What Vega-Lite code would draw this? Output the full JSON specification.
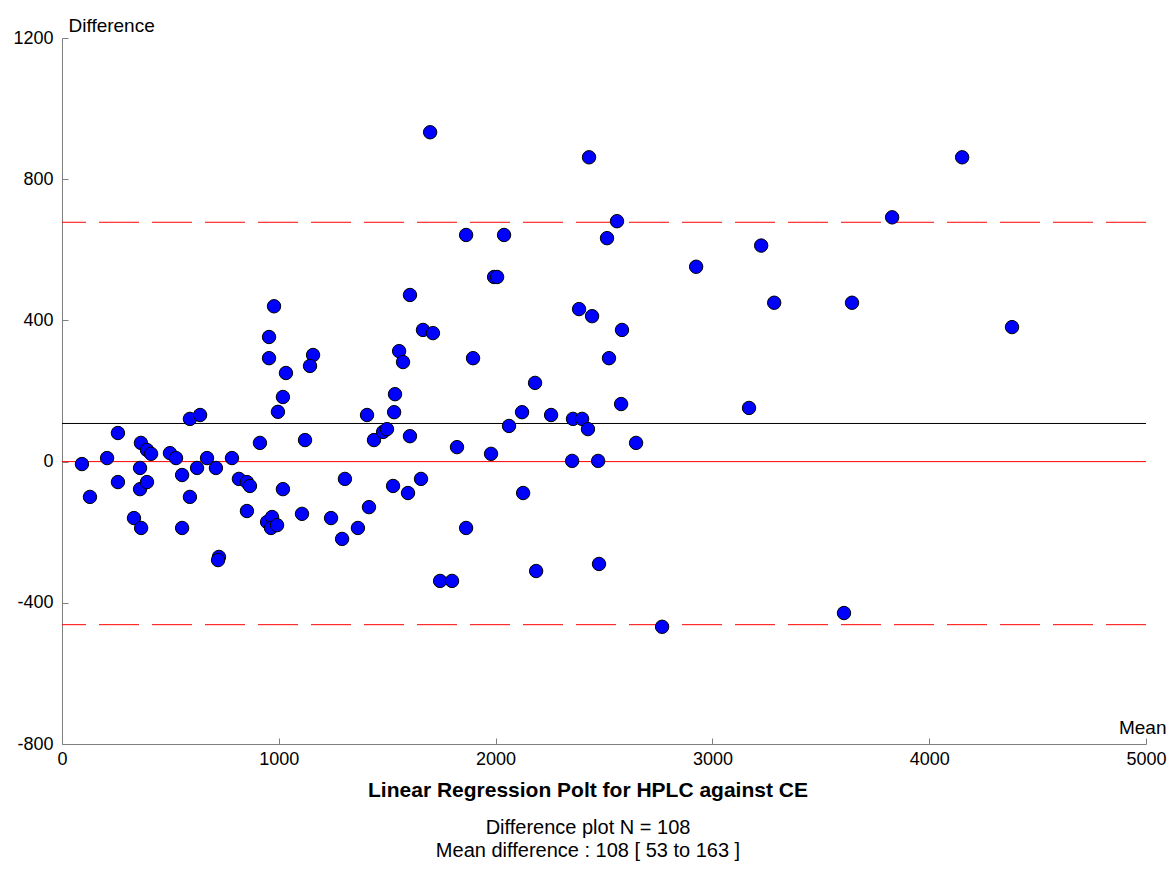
{
  "$schema": "https://vega.github.io/schema/vega-lite/v6.json",
  "width": 1084,
  "height": 706,
  "autosize": "none",
  "padding": {"left": 62, "top": 38, "right": 23, "bottom": 147},
  "background": "white",
  "config": {
    "view": {"stroke": null},
    "font": "Liberation Sans",
    "axis": {
      "grid": false,
      "domainColor": "#7f7f7f",
      "domainWidth": 1,
      "tickColor": "#7f7f7f",
      "tickSize": -6,
      "labelColor": "black",
      "labelFont": "Liberation Sans",
      "labelFontSize": 18,
      "labelExpr": "'' + datum.value",
      "titleFont": "Liberation Sans",
      "titleFontSize": 19,
      "titleFontWeight": "normal",
      "titleColor": "black"
    }
  },
  "title": {
    "text": "Linear Regression Polt for HPLC against CE",
    "subtitle": ["Difference plot N = 108", "Mean difference : 108 [ 53 to 163 ]"],
    "orient": "bottom",
    "anchor": "middle",
    "dx": -16,
    "offset": 12,
    "font": "Liberation Sans",
    "fontSize": 21,
    "fontWeight": "bold",
    "color": "black",
    "subtitleFont": "Liberation Sans",
    "subtitleFontSize": 20,
    "subtitleColor": "black",
    "subtitlePadding": 17,
    "subtitleLineHeight": 23
  },
  "datasets": {
    "pairs": [
      {"mean": 92, "diff": -7}, {"mean": 129, "diff": -100}, {"mean": 208, "diff": 10}, {"mean": 258, "diff": 81},
      {"mean": 258, "diff": -58}, {"mean": 332, "diff": -160}, {"mean": 365, "diff": -188}, {"mean": 364, "diff": 53},
      {"mean": 392, "diff": 33}, {"mean": 411, "diff": 22}, {"mean": 360, "diff": -18}, {"mean": 360, "diff": -78},
      {"mean": 392, "diff": -58}, {"mean": 498, "diff": 24}, {"mean": 526, "diff": 10}, {"mean": 554, "diff": -38},
      {"mean": 590, "diff": -100}, {"mean": 554, "diff": -188}, {"mean": 623, "diff": -18}, {"mean": 669, "diff": 10},
      {"mean": 710, "diff": -18}, {"mean": 590, "diff": 121}, {"mean": 637, "diff": 132}, {"mean": 724, "diff": -270},
      {"mean": 720, "diff": -279}, {"mean": 784, "diff": 10}, {"mean": 816, "diff": -49}, {"mean": 853, "diff": -58},
      {"mean": 867, "diff": -69}, {"mean": 853, "diff": -140}, {"mean": 913, "diff": 53}, {"mean": 1019, "diff": -78},
      {"mean": 996, "diff": 141}, {"mean": 1019, "diff": 183}, {"mean": 1121, "diff": 61}, {"mean": 1107, "diff": -148},
      {"mean": 946, "diff": -171}, {"mean": 969, "diff": -157}, {"mean": 964, "diff": -188}, {"mean": 992, "diff": -180},
      {"mean": 1241, "diff": -160}, {"mean": 1292, "diff": -219}, {"mean": 1305, "diff": -49}, {"mean": 1365, "diff": -188},
      {"mean": 978, "diff": 440}, {"mean": 955, "diff": 353}, {"mean": 955, "diff": 293}, {"mean": 1033, "diff": 251},
      {"mean": 1158, "diff": 302}, {"mean": 1144, "diff": 271}, {"mean": 1407, "diff": 132}, {"mean": 1416, "diff": -129},
      {"mean": 1439, "diff": 61}, {"mean": 1481, "diff": 84}, {"mean": 1499, "diff": 92}, {"mean": 1536, "diff": 191},
      {"mean": 1532, "diff": 140}, {"mean": 1555, "diff": 313}, {"mean": 1573, "diff": 282}, {"mean": 1605, "diff": 72},
      {"mean": 1527, "diff": -69}, {"mean": 1596, "diff": -89}, {"mean": 1656, "diff": -49}, {"mean": 1605, "diff": 472},
      {"mean": 1665, "diff": 373}, {"mean": 1711, "diff": 364}, {"mean": 1698, "diff": 933}, {"mean": 1744, "diff": -338},
      {"mean": 1799, "diff": -338}, {"mean": 1822, "diff": 41}, {"mean": 1864, "diff": 642}, {"mean": 1864, "diff": -188},
      {"mean": 1896, "diff": 293}, {"mean": 1979, "diff": 22}, {"mean": 1993, "diff": 523}, {"mean": 2007, "diff": 523},
      {"mean": 2039, "diff": 642}, {"mean": 2062, "diff": 101}, {"mean": 2122, "diff": 140}, {"mean": 2127, "diff": -89},
      {"mean": 2182, "diff": 223}, {"mean": 2187, "diff": -310}, {"mean": 2256, "diff": 132}, {"mean": 2357, "diff": 121},
      {"mean": 2399, "diff": 121}, {"mean": 2426, "diff": 92}, {"mean": 2353, "diff": 2}, {"mean": 2473, "diff": 2},
      {"mean": 2385, "diff": 432}, {"mean": 2445, "diff": 412}, {"mean": 2431, "diff": 862}, {"mean": 2477, "diff": -290},
      {"mean": 2514, "diff": 633}, {"mean": 2560, "diff": 681}, {"mean": 2523, "diff": 293}, {"mean": 2579, "diff": 163},
      {"mean": 2583, "diff": 373}, {"mean": 2648, "diff": 53}, {"mean": 2768, "diff": -468}, {"mean": 2925, "diff": 552},
      {"mean": 3169, "diff": 152}, {"mean": 3225, "diff": 612}, {"mean": 3285, "diff": 450}, {"mean": 3607, "diff": -429},
      {"mean": 3644, "diff": 450}, {"mean": 3829, "diff": 692}, {"mean": 4152, "diff": 862}, {"mean": 4382, "diff": 381}
    ],
    "limits": [
      {"level": 678, "kind": "upper"},
      {"level": -462, "kind": "lower"}
    ]
  },
  "layer": [
    {
      "data": {"values": [{"level": 0}]},
      "mark": {"type": "rule", "color": "#ff0000", "strokeWidth": 1},
      "encoding": {"y": {"field": "level", "type": "quantitative"}}
    },
    {
      "data": {"values": [{"level": 108}]},
      "mark": {"type": "rule", "color": "black", "strokeWidth": 1},
      "encoding": {"y": {"field": "level", "type": "quantitative"}}
    },
    {
      "data": {"name": "limits"},
      "mark": {"type": "rule", "color": "#ff0000", "strokeWidth": 1, "strokeDash": [40, 13]},
      "encoding": {"y": {"field": "level", "type": "quantitative"}}
    },
    {
      "data": {"name": "pairs"},
      "mark": {"type": "point", "shape": "circle", "filled": true, "fill": "#0000ff", "stroke": "black", "strokeWidth": 1, "opacity": 1, "size": 180},
      "encoding": {
        "x": {
          "field": "mean",
          "type": "quantitative",
          "scale": {"domain": [0, 5000], "nice": false, "zero": false},
          "axis": {
            "values": [0, 1000, 2000, 3000, 4000, 5000],
            "title": "Mean",
            "titleAlign": "right",
            "titleAnchor": null,
            "titleX": 1104,
            "titleY": -11,
            "titleBaseline": "alphabetic",
            "labelPadding": 12,
            "labelFlush": false
          }
        },
        "y": {
          "field": "diff",
          "type": "quantitative",
          "scale": {"domain": [-800, 1200], "nice": false, "zero": false},
          "axis": {
            "values": [-800, -400, 0, 400, 800, 1200],
            "title": "Difference",
            "titleAngle": 0,
            "titleAlign": "left",
            "titleAnchor": null,
            "titleX": 6,
            "titleY": -7,
            "titleBaseline": "alphabetic",
            "labelPadding": 15,
            "labelFlush": false
          }
        }
      }
    }
  ]
}
